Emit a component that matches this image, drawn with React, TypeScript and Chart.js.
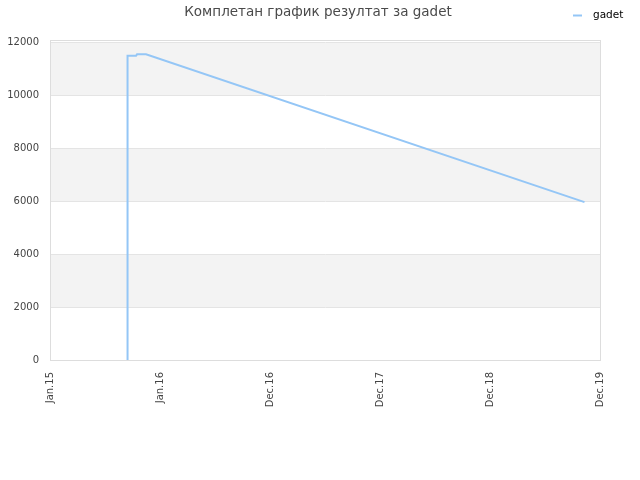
import { useEffect, useRef } from "react";
import { Chart, registerables } from "chart.js";

Chart.register(...registerables);

const title = "Комплетан график резултат за gadet";
const seriesName = "gadet";
const lineColor = "#94c6f6";
const tickLabels = ["Jan.15", "Jan.16", "Dec.16", "Dec.17", "Dec.18", "Dec.19"];
const yTicks = [0, 2000, 4000, 6000, 8000, 10000, 12000];
// x positions are fractions of the label slots
const xPos = [0.705, 0.705, 0.782, 0.791, 0.873, 4.859];
const values = [0, 11505, 11505, 11558, 11558, 5970];

const decorPlugin = {
  id: "decor",
  beforeDraw(chart: any) {
    const { ctx, chartArea, scales } = chart;
    const y = scales.y;
    ctx.save();
    ctx.fillStyle = "#f3f3f3";
    for (let i = 1; i + 1 < yTicks.length; i += 2) {
      const top = y.getPixelForValue(yTicks[i + 1]);
      const bot = y.getPixelForValue(yTicks[i]);
      ctx.fillRect(chartArea.left, top, chartArea.right - chartArea.left, bot - top);
    }
    ctx.restore();
  },
  afterDraw(chart: any) {
    const { ctx, chartArea } = chart;
    ctx.save();
    ctx.strokeStyle = "#dddddd";
    ctx.lineWidth = 1;
    ctx.strokeRect(chartArea.left + 0.5, chartArea.top + 0.5, chartArea.right - chartArea.left, chartArea.bottom - chartArea.top);
    // title
    ctx.fillStyle = "#4a4a4a";
    ctx.font = "13.5px 'DejaVu Sans'";
    ctx.textAlign = "center";
    ctx.textBaseline = "middle";
    ctx.fillText(title, 318, 12);
    // legend
    ctx.strokeStyle = lineColor;
    ctx.lineWidth = 2;
    ctx.beginPath();
    ctx.moveTo(573, 15.5);
    ctx.lineTo(582, 15.5);
    ctx.stroke();
    ctx.fillStyle = "#000000";
    ctx.font = "10.5px 'DejaVu Sans'";
    ctx.textAlign = "left";
    ctx.fillText(seriesName, 593, 15);
    ctx.restore();
  }
};

export default function App() {
  const canvasRef = useRef<HTMLCanvasElement | null>(null);

  useEffect(() => {
    if (!canvasRef.current) return;
    const chart = new Chart(canvasRef.current, {
      type: "line",
      data: {
        datasets: [
          {
            label: seriesName,
            data: xPos.map((x, i) => ({ x, y: values[i] })),
            borderColor: lineColor,
            backgroundColor: lineColor,
            borderWidth: 2,
            pointRadius: 0,
            tension: 0
          }
        ]
      },
      options: {
        animation: false,
        responsive: true,
        maintainAspectRatio: false,
        layout: { padding: 0 },
        plugins: {
          title: { display: false },
          tooltip: { enabled: false },
          legend: { display: false }
        },
        scales: {
          x: {
            type: "linear",
            min: 0,
            max: 5,
            grid: { display: false },
            border: { color: "#cccccc" },
            afterFit: (s: any) => {
              s.height = 120;
            },
            ticks: {
              stepSize: 1,
              autoSkip: false,
              maxRotation: 90,
              minRotation: 90,
              padding: 4,
              color: "#444",
              font: { size: 10, family: "DejaVu Sans" },
              callback: (v: any) => tickLabels[Number(v)] ?? ""
            }
          },
          y: {
            min: 0,
            max: 12100,
            grid: { drawTicks: false, color: "#e4e4e4" },
            border: { color: "#dddddd" },
            afterFit: (s: any) => {
              s.width = 50;
            },
            afterBuildTicks: (s: any) => {
              s.ticks = yTicks.map((value) => ({ value }));
            },
            ticks: {
              padding: 11,
              autoSkip: false,
              color: "#444",
              font: { size: 10, family: "DejaVu Sans" },
              callback: (v: any) => String(v)
            }
          },
          top: {
            type: "linear",
            position: "top",
            display: true,
            grid: { display: false },
            border: { display: false },
            ticks: { display: false },
            afterFit: (s: any) => {
              s.height = 40;
            }
          },
          r2: {
            type: "linear",
            position: "right",
            display: true,
            grid: { display: false },
            border: { display: false },
            ticks: { display: false },
            afterFit: (s: any) => {
              s.width = 40;
            }
          }
        }
      },
      plugins: [decorPlugin]
    });
    return () => chart.destroy();
  }, []);

  return (
    <div style={{ position: "fixed", left: 0, top: 0, width: 640, height: 480, background: "#fff" }}>
      <canvas ref={canvasRef} />
    </div>
  );
}
